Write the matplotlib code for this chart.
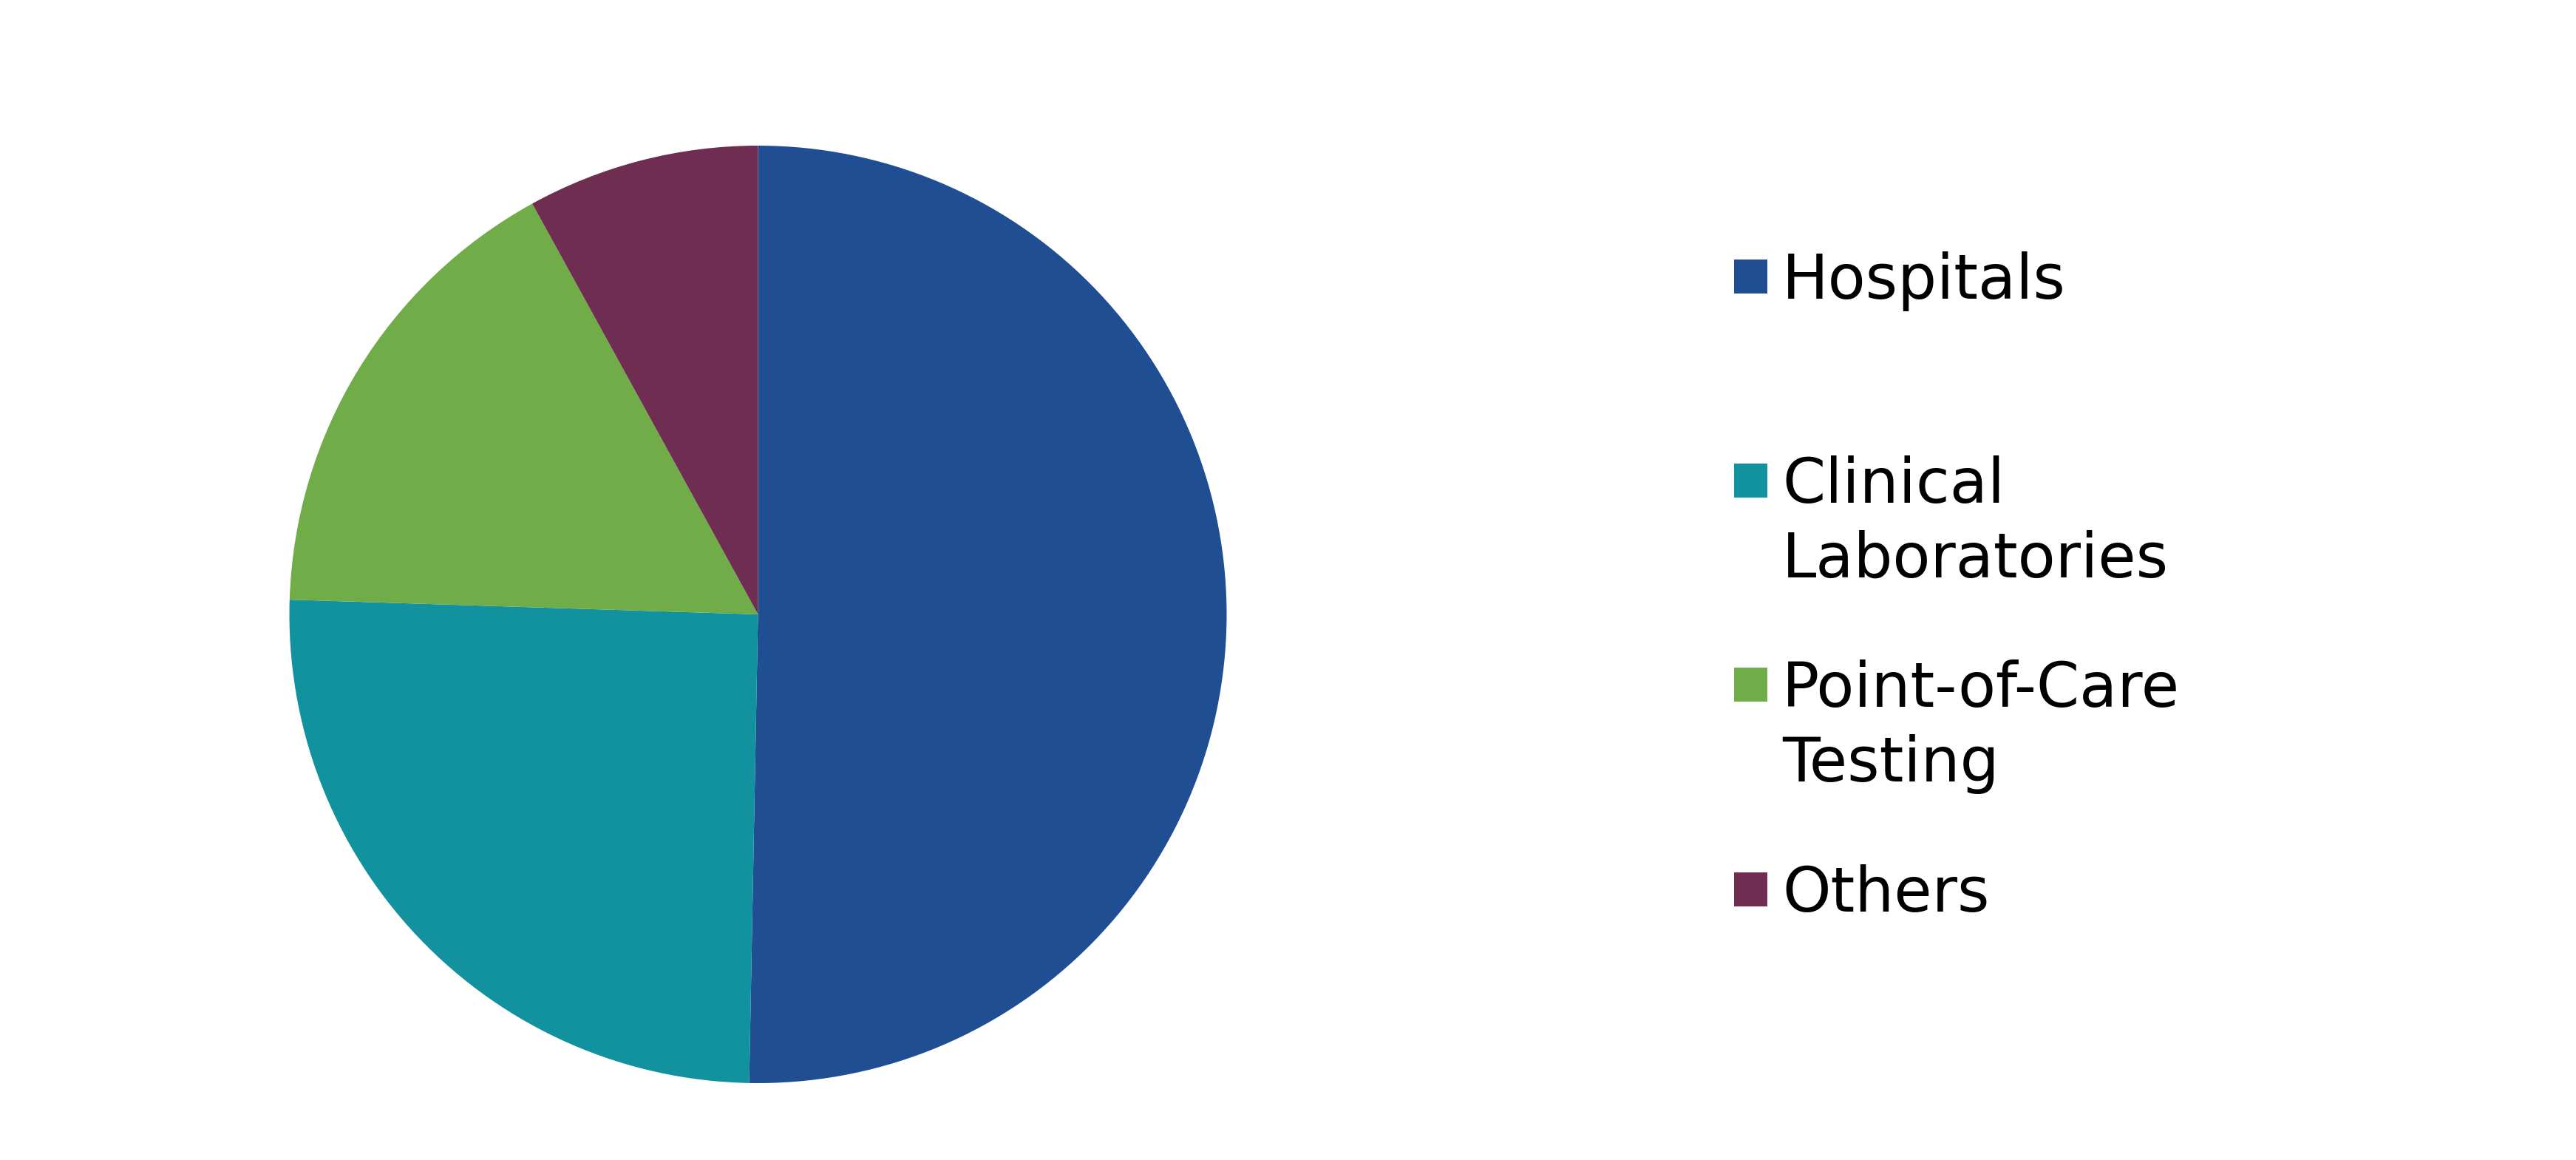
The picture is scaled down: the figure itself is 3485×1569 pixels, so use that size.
import matplotlib.pyplot as plt
from matplotlib.patches import Rectangle

# market share by end user
labels = ["Hospitals", "Clinical\nLaboratories", "Point-of-Care\nTesting", "Others"]
shares = [50.3, 25.2, 16.5, 8.0]
colors = ["#1F4F92", "#12929E", "#70AC48", "#6E2D51"]

W, H = 3485, 1569
fig = plt.figure(figsize=(W / 100, H / 100), dpi=100)

# pie axes: centre (1025, 831) px, radius ~634 px
r = 634
cx, cy = 1025.5, 831
ax = fig.add_axes([(cx - r) / W, (H - cy - r) / H, 2 * r / W, 2 * r / H])
ax.pie(shares, colors=colors, startangle=90, counterclock=False,
       wedgeprops=dict(linewidth=0))
ax.set_xlim(-1, 1)
ax.set_ylim(-1, 1)
ax.set_aspect("equal")
ax.axis("off")

# legend, drawn by hand to keep the uneven spacing
first_base = [404, 680, 956, 1233]
line_gap = 101
for lab, col, yb in zip(labels, colors, first_base):
    fig.patches.append(Rectangle((2346 / W, (H - yb + 7) / H), 45 / W, 46 / H,
                                 facecolor=col, edgecolor="none",
                                 transform=fig.transFigure, figure=fig))
    for k, line in enumerate(lab.split("\n")):
        fig.text(2411 / W, (H - yb - k * line_gap) / H, line, family="DejaVu Sans",
                 fontsize=60, va="baseline", ha="left", color="black")

fig.savefig("out.png", dpi=100, facecolor="white")
